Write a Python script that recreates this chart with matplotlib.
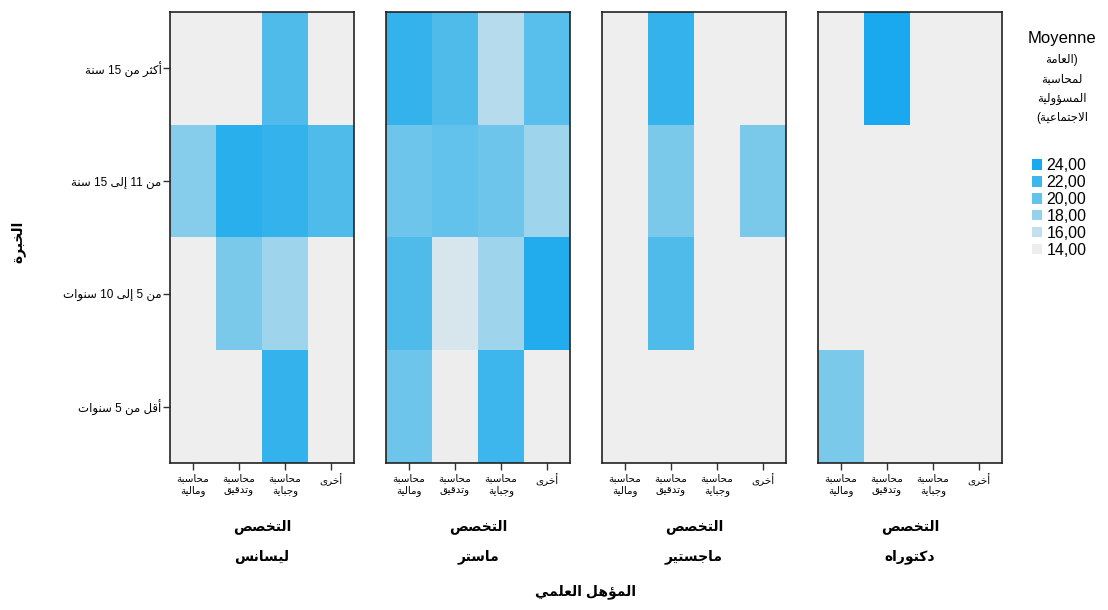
import numpy as np
import matplotlib
matplotlib.use("Agg")
import matplotlib.pyplot as plt
from matplotlib.colors import LinearSegmentedColormap, Normalize
from matplotlib.patches import Patch

# ---------------- data ----------------
experience = ["أكثر من 15 سنة", "من 11 إلى 15 سنة", "من 5 إلى 10 سنوات", "أقل من 5 سنوات"]
specialties = ["محاسبة ومالية", "محاسبة وتدقيق", "محاسبة وجباية", "أخرى"]
qualifications = ["ليسانس", "ماستر", "ماجستير", "دكتوراه"]
nan = np.nan
licence_vals = [[nan, nan, 21.0, nan],
                [18.5, 23.0, 22.5, 21.0],
                [nan, 19.0, 17.5, nan],
                [nan, nan, 22.5, nan]]
master_vals = [[22.5, 21.0, 16.5, 20.5],
               [19.5, 20.0, 19.5, 17.5],
               [21.0, 15.0, 17.5, 23.5],
               [19.5, 14.0, 22.0, nan]]
magister_vals = [[nan, 22.5, nan, nan],
                 [nan, 19.0, nan, 19.0],
                 [nan, 21.0, nan, nan],
                 [nan, nan, nan, nan]]
doctorate_vals = [[nan, 24.0, nan, nan],
                  [nan, nan, nan, nan],
                  [nan, nan, nan, nan],
                  [19.0, nan, nan, nan]]
legend_values = [24, 22, 20, 18, 16, 14]
legend_title = ["Moyenne", "(العامة", "لمحاسبة", "المسؤولية", "الاجتماعية)"]
x_title = "التخصص"
y_title = "الخبرة"
facet_title = "المؤهل العلمي"

# ------------- minimal Arabic shaping (visual order) -------------
FORMS = {
    'ء': (0xFE80,), 'آ': (0xFE81, 0xFE82), 'أ': (0xFE83, 0xFE84), 'ؤ': (0xFE85, 0xFE86),
    'إ': (0xFE87, 0xFE88), 'ئ': (0xFE89, 0xFE8A, 0xFE8B, 0xFE8C), 'ا': (0xFE8D, 0xFE8E),
    'ب': (0xFE8F, 0xFE90, 0xFE91, 0xFE92), 'ة': (0xFE93, 0xFE94),
    'ت': (0xFE95, 0xFE96, 0xFE97, 0xFE98), 'ث': (0xFE99, 0xFE9A, 0xFE9B, 0xFE9C),
    'ج': (0xFE9D, 0xFE9E, 0xFE9F, 0xFEA0), 'ح': (0xFEA1, 0xFEA2, 0xFEA3, 0xFEA4),
    'خ': (0xFEA5, 0xFEA6, 0xFEA7, 0xFEA8), 'د': (0xFEA9, 0xFEAA), 'ذ': (0xFEAB, 0xFEAC),
    'ر': (0xFEAD, 0xFEAE), 'ز': (0xFEAF, 0xFEB0), 'س': (0xFEB1, 0xFEB2, 0xFEB3, 0xFEB4),
    'ش': (0xFEB5, 0xFEB6, 0xFEB7, 0xFEB8), 'ص': (0xFEB9, 0xFEBA, 0xFEBB, 0xFEBC),
    'ض': (0xFEBD, 0xFEBE, 0xFEBF, 0xFEC0), 'ط': (0xFEC1, 0xFEC2, 0xFEC3, 0xFEC4),
    'ظ': (0xFEC5, 0xFEC6, 0xFEC7, 0xFEC8), 'ع': (0xFEC9, 0xFECA, 0xFECB, 0xFECC),
    'غ': (0xFECD, 0xFECE, 0xFECF, 0xFED0), 'ف': (0xFED1, 0xFED2, 0xFED3, 0xFED4),
    'ق': (0xFED5, 0xFED6, 0xFED7, 0xFED8), 'ك': (0xFED9, 0xFEDA, 0xFEDB, 0xFEDC),
    'ل': (0xFEDD, 0xFEDE, 0xFEDF, 0xFEE0), 'م': (0xFEE1, 0xFEE2, 0xFEE3, 0xFEE4),
    'ن': (0xFEE5, 0xFEE6, 0xFEE7, 0xFEE8), 'ه': (0xFEE9, 0xFEEA, 0xFEEB, 0xFEEC),
    'و': (0xFEED, 0xFEEE), 'ى': (0xFEEF, 0xFEF0), 'ي': (0xFEF1, 0xFEF2, 0xFEF3, 0xFEF4),
}
LAM_ALEF = {'ا': (0xFEFB, 0xFEFC), 'أ': (0xFEF7, 0xFEF8), 'إ': (0xFEF9, 0xFEFA), 'آ': (0xFEF5, 0xFEF6)}


def shape_word(word):
    units = []
    i = 0
    while i < len(word):
        c = word[i]
        if c == 'ل' and i + 1 < len(word) and word[i + 1] in LAM_ALEF:
            units.append(('LIG', LAM_ALEF[word[i + 1]]))
            i += 2
            continue
        units.append((c, FORMS.get(c)))
        i += 1
    out = []
    for k, (c, f) in enumerate(units):
        if f is None:
            out.append(c)
            continue
        prev = units[k - 1] if k > 0 else None
        nxt = units[k + 1] if k + 1 < len(units) else None
        prev_join = prev is not None and prev[1] is not None and prev[0] != 'LIG' and len(prev[1]) == 4
        dual = c != 'LIG' and len(f) == 4
        next_join = dual and nxt is not None and nxt[1] is not None
        if len(f) == 1:
            out.append(chr(f[0]))
        elif prev_join and next_join:
            out.append(chr(f[3]))
        elif prev_join:
            out.append(chr(f[1]))
        elif next_join:
            out.append(chr(f[2]))
        else:
            out.append(chr(f[0]))
    return ''.join(out)


MIRROR = str.maketrans('()', ')(')


def ar(text):
    tokens = text.split(' ')
    vis = []
    for t in reversed(tokens):
        if any('\u0600' <= ch <= '\u06FF' for ch in t):
            vis.append(shape_word(t)[::-1].translate(MIRROR))
        else:
            vis.append(t)
    return ' '.join(vis)


# ---------------- figure ----------------
plt.rcParams['font.family'] = ['Liberation Sans', 'DejaVu Sans']
W, H = 1108, 610
fig = plt.figure(figsize=(W / 100, H / 100), dpi=100)

cmap = LinearSegmentedColormap.from_list(
    "spss", ["#EDEDED", "#C2DFEC", "#93D1EC", "#62C2EB", "#3CB6EC", "#1AA9EE"])
norm = Normalize(vmin=14, vmax=24)

panels = [licence_vals, master_vals, magister_vals, doctorate_vals]
lefts = [170, 386, 602, 818]
ax_w, top, bottom = 184, 12, 463

spec_labels = ["\n".join(ar(w) for w in s.split(' ')) for s in specialties]

for p, (vals, lx) in enumerate(zip(panels, lefts)):
    ax = fig.add_axes([lx / W, 1 - bottom / H, ax_w / W, (bottom - top) / H])
    ax.set_facecolor("#EEEEEE")
    data = np.ma.masked_invalid(np.array(vals, dtype=float))
    ax.imshow(data, cmap=cmap, norm=norm, aspect='auto', interpolation='nearest')
    ax.set_xlim(-0.5, 3.5)
    ax.set_ylim(3.5, -0.5)
    ax.set_xticks(range(4))
    ax.set_xticklabels(spec_labels, fontsize=7.5, linespacing=1.25)
    ax.tick_params(axis='x', length=5, width=1, color='#333333', pad=2)
    if p == 0:
        ax.set_yticks(range(4))
        ax.set_yticklabels([ar(e) for e in experience], fontsize=8.5)
        ax.tick_params(axis='y', length=5, width=1, color='#333333', pad=1)
    else:
        ax.set_yticks([])
    for s in ax.spines.values():
        s.set_color('#222222')
        s.set_linewidth(1.2)
    cx = (lx + ax_w / 2) / W
    fig.text(cx, 1 - 527 / H, ar(x_title), ha='center', va='center', fontsize=10, fontweight='bold')
    fig.text(cx, 1 - 557 / H, ar(qualifications[p]), ha='center', va='center', fontsize=10, fontweight='bold')

fig.text(586 / W, 1 - 592 / H, ar(facet_title), ha='center', va='center', fontsize=10, fontweight='bold')
fig.text(18 / W, 1 - 242 / H, ar(y_title), ha='center', va='center', rotation=90, fontsize=10, fontweight='bold')

# legend title (separate lines)
fig.text(1062 / W, 1 - 39 / H, legend_title[0], ha='center', va='center', fontsize=12)
for k, line in enumerate(legend_title[1:]):
    fig.text(1062 / W, 1 - (60 + 19.5 * k) / H, ar(line), ha='center', va='center', fontsize=8.5)

handles = [Patch(facecolor=cmap(norm(v)), edgecolor='none') for v in legend_values]
labels = [f"{v:.2f}".replace('.', ',') for v in legend_values]
leg = fig.legend(handles, labels, loc='upper left', bbox_to_anchor=(1032 / W, 1 - 158 / H),
                 frameon=False, fontsize=11.5,
                 handlelength=0.65, handleheight=0.65, handletextpad=0.25, labelspacing=0.12,
                 borderaxespad=0, borderpad=0)

fig.savefig("out.png", dpi=100)
